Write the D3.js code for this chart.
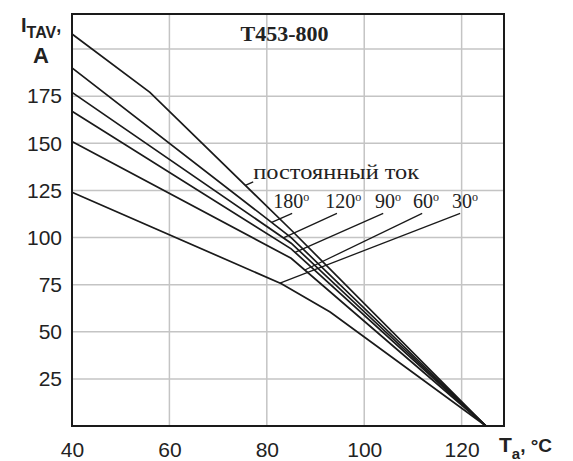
<!DOCTYPE html>
<html>
<head>
<meta charset="utf-8">
<script src="https://cdn.jsdelivr.net/npm/d3@7"></script>
<style>
  body { margin: 0; background: #fff; }
</style>
</head>
<body>
<div id="chart"></div>
<script>
// curves, [Ta in °C, I_TAV in A]
var dcCurve  = [[40, 208], [56, 177], [85, 104], [125, 0]];
var curve180 = [[40, 190], [85, 100], [125, 0]];
var curve120 = [[40, 177], [85, 97], [125, 0]];
var curve90  = [[40, 167], [85, 94], [125, 0]];
var curve60  = [[40, 151], [85, 89], [125, 0]];
var curve30  = [[40, 124], [83, 75.5], [93, 60.5], [125, 0]];

var xTicks = [40, 60, 80, 100, 120];
var yTicks = [25, 50, 75, 100, 125, 150, 175];
var xGrid = [60, 80, 100, 120];
var yGrid = [25, 50, 75, 100, 125, 150, 175, 200];

// angle labels and their leader lines (data units)
var angleNames   = ["180", "120", "90", "60", "30"];
var angleCurves  = [curve180, curve120, curve90, curve60, curve30];
var angleLabelT  = [81.3, 92, 102.2, 110, 118];
var angleLabelI  = 115.5;
var leaderTopT   = [85.2, 94.4, 103.9, 111.9, 119.7];
var leaderTopI   = 112.8;
var leaderCurveT = [81, 83.4, 85.8, 87.8, 82.7];

var margin = {top: 14, right: 69, bottom: 35, left: 72},
    width = 573 - margin.left - margin.right,
    height = 461 - margin.top - margin.bottom;

var x = d3.scaleLinear().domain([40, 128.7]).range([0, width]);
var y = d3.scaleLinear().domain([0, 218.6]).range([height, 0]);

// value of a curve at temperature t
function at(curve, t) {
  for (var i = 1; i < curve.length; i++) {
    if (t <= curve[i][0]) {
      var a = curve[i - 1], b = curve[i];
      return a[1] + (b[1] - a[1]) * (t - a[0]) / (b[0] - a[0]);
    }
  }
  return curve[curve.length - 1][1];
}

var svg = d3.select("#chart").append("svg")
    .attr("width", 573)
    .attr("height", 461);

var g = svg.append("g")
    .attr("transform", "translate(" + margin.left + "," + margin.top + ")");

// grid
g.selectAll(".vgrid").data(xGrid).enter().append("line")
    .attr("x1", function(d) { return x(d); })
    .attr("x2", function(d) { return x(d); })
    .attr("y1", 0).attr("y2", height)
    .attr("stroke", "#c4c4c4").attr("stroke-width", 1.5);
g.selectAll(".hgrid").data(yGrid).enter().append("line")
    .attr("y1", function(d) { return y(d); })
    .attr("y2", function(d) { return y(d); })
    .attr("x1", 0).attr("x2", width)
    .attr("stroke", "#c4c4c4").attr("stroke-width", 1.5);

// axes
var xAxis = g.append("g")
    .attr("transform", "translate(0," + height + ")")
    .call(d3.axisBottom(x).tickValues(xTicks).tickSize(0).tickPadding(16));
var yAxis = g.append("g")
    .call(d3.axisLeft(y).tickValues(yTicks).tickSize(0).tickPadding(10));
[xAxis, yAxis].forEach(function(a) {
  a.select(".domain").remove();
  a.selectAll("text")
      .attr("fill", "#222")
      .style("font-family", "'Liberation Sans', Arial, sans-serif")
      .style("font-size", "21px");
});

// curves
var line = d3.line()
    .x(function(d) { return x(d[0]); })
    .y(function(d) { return y(d[1]); });

var allCurves = [dcCurve, curve180, curve120, curve90, curve60, curve30];
g.selectAll(".curve").data(allCurves).enter().append("path")
    .attr("class", "curve")
    .attr("d", line)
    .attr("fill", "none")
    .attr("stroke", "#1a1a1a")
    .attr("stroke-width", 1.7);

// frame
g.append("rect")
    .attr("width", width).attr("height", height)
    .attr("fill", "none").attr("stroke", "#1a1a1a").attr("stroke-width", 2);

var serif = "'Liberation Serif', 'Times New Roman', serif";
var sans = "'Liberation Sans', Arial, sans-serif";

// title
g.append("text")
    .attr("x", x(74.6)).attr("y", y(204.5))
    .style("font-family", serif).style("font-weight", "bold").style("font-size", "22px")
    .attr("fill", "#222")
    .text("T453-800");

// DC label and its short leader
g.append("text")
    .attr("x", x(77.2)).attr("y", y(131))
    .style("font-family", serif).style("font-size", "22px")
    .attr("fill", "#222")
    .attr("textLength", 166).attr("lengthAdjust", "spacingAndGlyphs")
    .text("постоянный ток");
g.append("line")
    .attr("x1", x(75.6)).attr("y1", y(at(dcCurve, 75.6)))
    .attr("x2", x(77.2)).attr("y2", y(129.5))
    .attr("stroke", "#1a1a1a").attr("stroke-width", 1.3);

// angle labels
angleNames.forEach(function(name, i) {
  var t = g.append("text")
      .attr("x", x(angleLabelT[i])).attr("y", y(angleLabelI))
      .style("font-family", serif).style("font-size", "20px")
      .attr("fill", "#222");
  t.append("tspan").text(name);
  t.append("tspan").attr("dy", -7).style("font-size", "12px").text("o");

  var tc = leaderCurveT[i];
  g.append("line")
      .attr("x1", x(leaderTopT[i])).attr("y1", y(leaderTopI))
      .attr("x2", x(tc)).attr("y2", y(at(angleCurves[i], tc)))
      .attr("stroke", "#1a1a1a").attr("stroke-width", 1.3);
});

// y axis title
var yt = svg.append("text")
    .attr("x", 21).attr("y", 32)
    .style("font-family", sans).style("font-weight", "bold")
    .attr("fill", "#222");
yt.append("tspan").style("font-size", "20px").text("I");
yt.append("tspan").attr("dy", 6).style("font-size", "16px").text("TAV");
yt.append("tspan").attr("dy", -6).style("font-size", "18px").text(",");
svg.append("text")
    .attr("x", 33).attr("y", 63)
    .style("font-family", sans).style("font-weight", "bold").style("font-size", "22px")
    .attr("fill", "#222")
    .text("A");

// x axis title
var xt = svg.append("text")
    .attr("x", 499).attr("y", 452)
    .style("font-family", sans).style("font-weight", "bold")
    .attr("fill", "#222");
xt.append("tspan").style("font-size", "21px").text("T");
xt.append("tspan").attr("dy", 7).style("font-size", "15px").text("a");
xt.append("tspan").attr("dy", -7).style("font-size", "19px").text(", °C");
</script>
</body>
</html>
